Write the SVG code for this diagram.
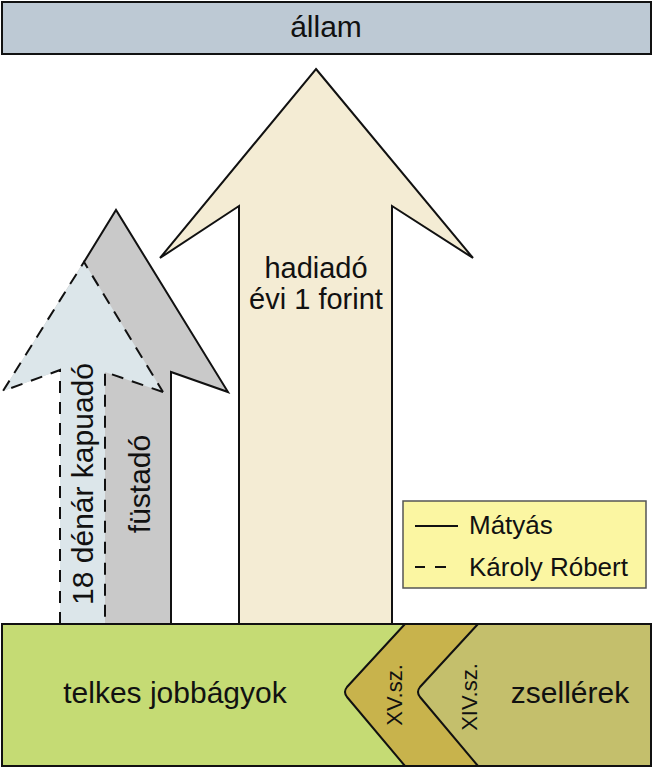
<svg xmlns="http://www.w3.org/2000/svg" width="653" height="768" viewBox="0 0 653 768">
<style>
text{font-family:"Liberation Sans",Arial,sans-serif;fill:#111;}
.big{font-size:30px;}
.mid{font-size:29px;}
.leg{font-size:26px;}
.small{font-size:22px;}
.ln{stroke:#111;stroke-width:2;fill:none;stroke-linejoin:miter;}
.dash{stroke:#111;stroke-width:2;fill:none;stroke-dasharray:12,9;}
</style>
<rect width="653" height="768" fill="#fff"/>
<g id="allam">
<rect x="2" y="2" width="649" height="52" fill="#BDC9D4" stroke="#111" stroke-width="2"/>
<text class="big" x="326" y="37" text-anchor="middle">állam</text>
</g>
<g id="hadiado">
<polygon points="316,69 473,258 392,206 392,624 239,624 239,206 160,258" fill="#F4ECD4" stroke="#111" stroke-width="2"/>
<text class="mid" x="316" y="278" text-anchor="middle">hadiadó</text>
<text class="mid" x="316" y="309" text-anchor="middle">évi 1 forint</text>
</g>
<g id="fustado">
<polygon points="116,210 228,392 171,372 171,624 60,624 60,370 3,391" fill="#C9C9C9"/>
<polyline class="ln" points="84,262 116,210 228,392 171,372 171,624"/>
<text class="big" transform="translate(150,484) rotate(-90)" text-anchor="middle">füstadó</text>
</g>
<g id="kapuado">
<polygon points="84,262 163,392 105,372 105,624 60,624 60,370 3,391" fill="#DCE6EA"/>
<polyline class="dash" points="163,392 105,372 105,624"/>
<polyline class="dash" points="60,624 60,370 3,391 84,262 163,392"/>
<text class="big" transform="translate(93,484) rotate(-90)" text-anchor="middle">18 dénár kapuadó</text>
</g>
<g id="legend">
<rect x="403" y="501" width="243" height="87" fill="#FBF6A2" stroke="#555" stroke-width="1.5"/>
<line x1="415" y1="526" x2="458" y2="526" stroke="#111" stroke-width="2"/>
<text class="leg" x="469" y="534">Mátyás</text>
<line x1="415" y1="567" x2="425" y2="567" stroke="#111" stroke-width="2"/>
<line x1="435" y1="567" x2="446" y2="567" stroke="#111" stroke-width="2"/>
<text class="leg" x="469" y="576">Károly Róbert</text>
</g>
<g id="telkes">
<rect x="2" y="624" width="649" height="142" fill="#C5DB74"/>
<text class="big" x="175" y="703" text-anchor="middle">telkes jobbágyok</text>
</g>
<g id="xv">
<path d="M405,624 L651,624 L651,766 L405,766 L347,697 Q343,692 347,687 Z" fill="#C8B34C"/>
<path class="ln" d="M405,624 L347,687 Q343,692 347,697 L405,766"/>
<text class="small" transform="translate(402,695) rotate(-90)" text-anchor="middle">XV.sz.</text>
</g>
<g id="zsellerek">
<path d="M478,624 L651,624 L651,766 L478,766 L420,697 Q416,692 420,687 Z" fill="#C4BF6C"/>
<path class="ln" d="M478,624 L420,687 Q416,692 420,697 L478,766"/>
<text class="small" transform="translate(477,697) rotate(-90)" text-anchor="middle">XIV.sz.</text>
<text class="big" x="570" y="703" text-anchor="middle">zsellérek</text>
</g>
<rect x="2" y="624" width="649" height="142" fill="none" stroke="#111" stroke-width="2"/>
</svg>
